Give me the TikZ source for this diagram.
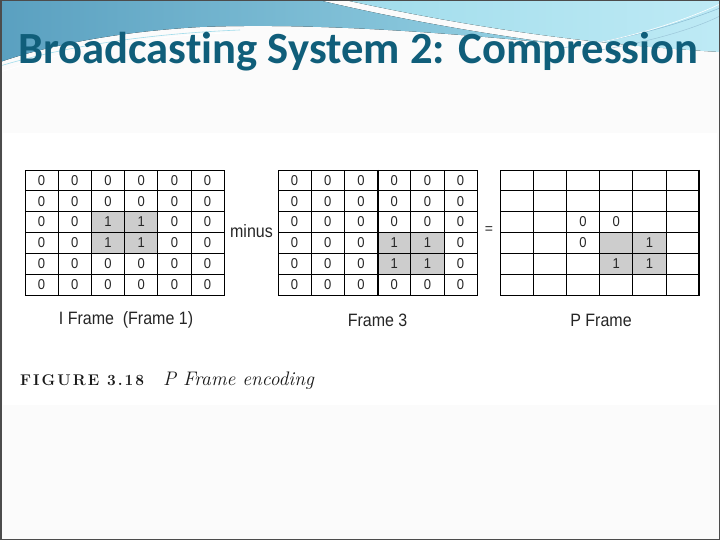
\documentclass[tikz,border=0pt]{standalone}
\usepackage{fontspec}
\setmainfont{Latin Modern Roman}
\newfontfamily\titlefont[Ligatures=NoCommon]{Carlito}
\newfontfamily\figfont{Liberation Sans}
\newfontfamily\capfont[LetterSpace=13]{Latin Modern Roman}
\definecolor{titleblue}{RGB}{16,94,122}
\definecolor{hdrA}{RGB}{90,160,192}
\definecolor{hdrB}{RGB}{150,210,228}
\definecolor{hdrC}{RGB}{160,220,235}
\definecolor{hdrD}{RGB}{190,234,245}
\definecolor{cellgray}{RGB}{205,205,205}
\definecolor{slidebg}{RGB}{251,251,251}
\newcommand{\vs}[1]{\scalebox{1}[1.12]{#1}}
\newcommand{\cv}[1]{\raisebox{-1.5pt}{\scalebox{1}[1.1]{#1}}}
\def\e{}
\tikzset{
  cell/.style={draw=black, line width=0.9pt, minimum width=33.2pt, minimum height=20.83pt,
    inner sep=0pt, outer sep=0pt, font=\figfont\fontsize{13}{13}\selectfont, text=black!85},
  shade cell/.style={fill=cellgray},
  lbl/.style={font=\figfont\fontsize{16}{16}\selectfont, text=black!85, inner sep=0pt},
  thickline/.style={line width=2pt, black}
}
\begin{document}
\begin{tikzpicture}[x=1pt,y=-1pt]
\useasboundingbox (0,0) rectangle (720,540);
% slide background
\fill[slidebg] (0,0) rectangle (720,540);
\fill[white] (3,133) rectangle (717,405);
% header decoration
\fill[left color=hdrA, right color=hdrB] (0,0) -- (318,0) .. controls (410,22) and (500,36) .. (560,44)
  .. controls (480,36) and (330,22) .. (200,27) .. controls (110,32) and (40,48) .. (0,62) -- cycle;
\fill[left color=hdrC, right color=hdrD] (345,0) -- (720,0) -- (720,52) .. controls (620,46) and (500,34) .. (345,0) -- cycle;
\draw[white, line width=0.8pt] (0,72) .. controls (60,52) and (140,36) .. (230,33);
\draw[hdrC, line width=0.6pt] (0,66) .. controls (60,48) and (140,34) .. (240,30);
\draw[hdrA!70, line width=0.5pt] (560,48) .. controls (630,40) and (690,20) .. (720,8);
\draw[white, line width=0.6pt] (580,46) .. controls (640,36) and (690,18) .. (720,4);
\draw[hdrA!60, line width=0.5pt] (600,50) .. controls (660,40) and (700,26) .. (720,16);
% title
\node[anchor=base west, inner sep=0pt, text=titleblue, font=\titlefont\bfseries\fontsize{44.6}{44.6}\selectfont]
  (title) at (18,64) {Broadcasting System 2: Compression};
% shaded cells
\fill[shade cell] (91.4,211.66) rectangle (157.8,253.32);
\fill[shade cell] (377.6,232.49) rectangle (444,274.15);
\fill[shade cell] (599.6,232.49) rectangle (666,274.15);
% grid 1 : I frame
\foreach \row [count=\r] in {{0,0,0,0,0,0},{0,0,0,0,0,0},{0,0,1,1,0,0},{0,0,1,1,0,0},{0,0,0,0,0,0},{0,0,0,0,0,0}}{
  \foreach \v [count=\c] in \row {
    \node[cell] (a-\r-\c) at ({25+33.2*(\c-0.5)},{170+20.83*(\r-0.5)}) {\cv{\v}};
  }
}
% grid 2 : frame 3
\foreach \row [count=\r] in {{0,0,0,0,0,0},{0,0,0,0,0,0},{0,0,0,0,0,0},{0,0,0,1,1,0},{0,0,0,1,1,0},{0,0,0,0,0,0}}{
  \foreach \v [count=\c] in \row {
    \node[cell] (b-\r-\c) at ({278+33.2*(\c-0.5)},{170+20.83*(\r-0.5)}) {\cv{\v}};
  }
}
% grid 3 : P frame
\foreach \row [count=\r] in {{\e,\e,\e,\e,\e,\e},{\e,\e,\e,\e,\e,\e},{\e,\e,0,0,\e,\e},{\e,\e,0,\e,1,\e},{\e,\e,\e,1,1,\e},{\e,\e,\e,\e,\e,\e}}{
  \foreach \v [count=\c] in \row {
    \node[cell] (p-\r-\c) at ({500+33.2*(\c-0.5)},{170+20.83*(\r-0.5)}) {\cv{\v}};
  }
}
\draw[thickline] (b-1-3.north east) -- (b-6-3.south east);
\draw[thickline] (p-1-6.north east) -- (p-6-6.south east);
% operators
\node[lbl] (minus) at (251.5,231.5) {\vs{minus}};
\node[lbl, font=\figfont\fontsize{14}{14}\selectfont] (eq) at (489,230) {=};
% labels
\node[lbl] (l1) at (126,320) {\vs{I Frame\ \ (Frame 1)}};
\node[lbl] (l2) at (377.6,320) {\vs{Frame 3}};
\node[lbl] (l3) at (601,320) {\vs{P Frame}};
% caption
\node[anchor=base west, inner sep=0pt, text=black!90] (cap1) at (20,385)
  {\capfont\bfseries\fontsize{15.5}{16}\selectfont FIGURE 3.18};
\node[anchor=base west, inner sep=0pt, text=black!90] (cap2) at (163,385)
  {\itshape\fontsize{19.6}{20}\selectfont P Frame encoding};
% slide border
\draw[black!70, line width=1.5pt] (0.75,0.75) rectangle (719.25,539.25);
\end{tikzpicture}
\end{document}
